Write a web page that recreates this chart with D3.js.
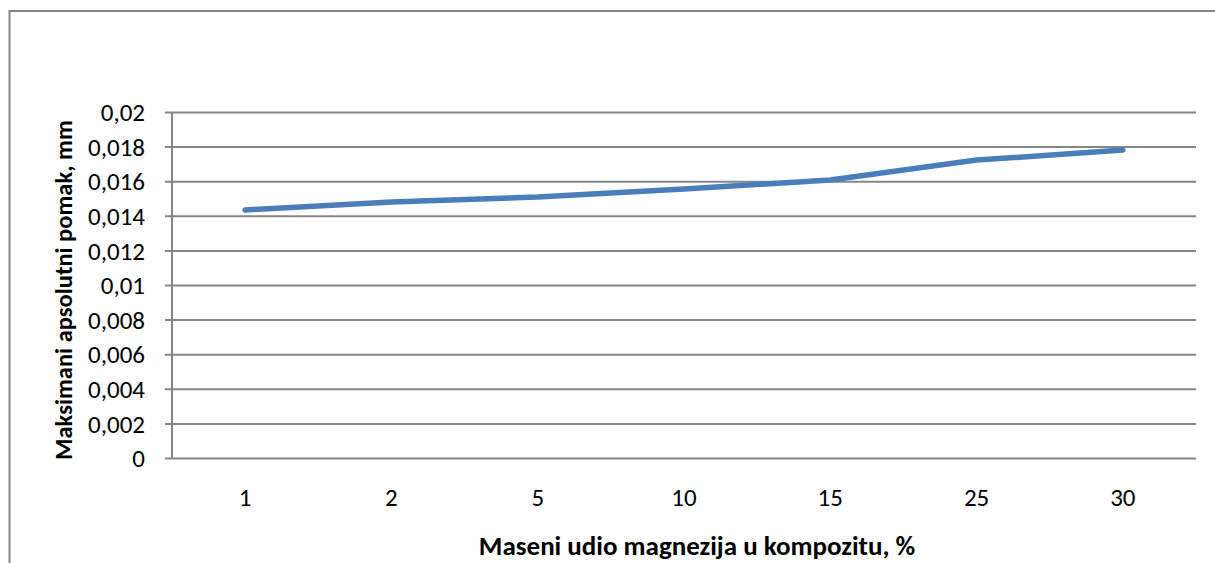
<!DOCTYPE html>
<html>
<head>
<meta charset="utf-8">
<script src="https://cdn.jsdelivr.net/npm/d3@7"></script>
<style>
  body { margin: 0; background: #fff; }
  text { font-family: Carlito, Lato, "Open Sans", sans-serif; fill: #000; }
</style>
</head>
<body>
<div id="chart"></div>
<script>
// data
const categories = ["1", "2", "5", "10", "15", "25", "30"];
const values = [0.01434, 0.0148, 0.01508, 0.01555, 0.01607, 0.01722, 0.01780];
const yTicks = [0, 0.002, 0.004, 0.006, 0.008, 0.01, 0.012, 0.014, 0.016, 0.018, 0.02];

const xTitle = "Maseni udio magnezija u kompozitu, %";
const yTitle = "Maksimani apsolutni pomak, mm";

let w = 1215;
let h = 563;

const svg = d3.select("#chart")
  .append("svg")
  .attr("width", w)
  .attr("height", h);

// outer chart border (runs past the right and bottom edges)
svg.append("rect")
  .attr("x", 9.5).attr("y", 11)
  .attr("width", 1230).attr("height", 600)
  .attr("fill", "none")
  .attr("stroke", "#868686")
  .attr("stroke-width", 2);

const pLeft = 172, pRight = 1196, pTop = 112, pBottom = 458;

const x = d3.scaleBand().domain(categories).range([pLeft, pRight]);
const y = d3.scaleLinear().domain([0, 0.02]).range([pBottom, pTop]);

const fmt = d => d === 0 ? "0" : String(+d.toFixed(3)).replace(".", ",");

// gridlines + y ticks
const yAxis = d3.axisLeft(y).tickValues(yTicks).tickFormat(fmt)
  .tickSize(-(pRight - pLeft)).tickSizeOuter(0);
const gy = svg.append("g")
  .attr("transform", `translate(${pLeft},0)`)
  .call(yAxis);
gy.select(".domain").remove();
gy.selectAll(".tick line")
  .attr("x1", -7)
  .attr("stroke", "#868686")
  .attr("stroke-width", 2);
gy.selectAll(".tick text")
  .attr("x", -27)
  .attr("dy", "0.35em")
  .style("font-size", "25px");

// vertical axis line
svg.append("line")
  .attr("x1", pLeft).attr("x2", pLeft)
  .attr("y1", pTop).attr("y2", pBottom)
  .attr("stroke", "#868686")
  .attr("stroke-width", 2);

// x axis labels
const xAxis = d3.axisBottom(x).tickSize(0);
const gx = svg.append("g")
  .attr("transform", `translate(0,${pBottom})`)
  .call(xAxis);
gx.select(".domain").remove();
gx.selectAll(".tick text")
  .attr("y", 39)
  .attr("dy", "0.35em")
  .style("font-size", "25px");

// series line
const line = d3.line()
  .x((d, i) => x(categories[i]) + x.bandwidth() / 2)
  .y(d => y(d));

svg.append("path")
  .datum(values)
  .attr("d", line)
  .attr("fill", "none")
  .attr("stroke", "#4a7ebb")
  .attr("stroke-width", 5.5)
  .attr("stroke-linecap", "round")
  .attr("stroke-linejoin", "round");

// axis titles
svg.append("text")
  .attr("x", 697).attr("y", 555)
  .attr("text-anchor", "middle")
  .style("font-size", "27px")
  .style("font-weight", "bold")
  .text(xTitle);

svg.append("text")
  .attr("transform", "translate(72,290) rotate(-90)")
  .attr("text-anchor", "middle")
  .style("font-size", "24.5px")
  .style("font-weight", "bold")
  .text(yTitle);
</script>
</body>
</html>
